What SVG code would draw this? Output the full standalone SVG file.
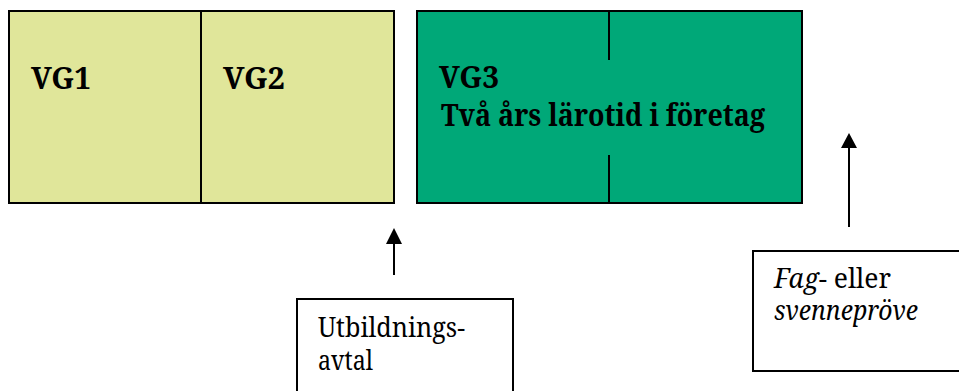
<svg xmlns="http://www.w3.org/2000/svg" width="959" height="391" viewBox="0 0 959 391">
<style>
.box{stroke:#000;stroke-width:2}
.line{stroke:#000;stroke-width:2;fill:none}
text{font-family:'Noto Serif','DejaVu Serif',serif;fill:#000}
.title{font-weight:bold;font-size:30px}
.lbl{font-size:27px}
</style>
<rect width="959" height="391" fill="#fff"/>
<g id="vg12">
<rect class="box" x="9" y="11" width="385" height="192" fill="#E0E69A"/>
<line class="line" x1="201" y1="11" x2="201" y2="203"/>
<text class="title" x="31" y="89" textLength="60" lengthAdjust="spacingAndGlyphs">VG1</text>
<text class="title" x="223" y="89" textLength="62" lengthAdjust="spacingAndGlyphs">VG2</text>
</g>
<g id="vg3">
<rect class="box" x="417" y="11" width="385" height="192" fill="#00A878"/>
<line class="line" x1="609" y1="11" x2="609" y2="60"/>
<line class="line" x1="609" y1="155" x2="609" y2="203"/>
<text class="title" x="439" y="88" textLength="60" lengthAdjust="spacingAndGlyphs">VG3</text>
<text class="title" x="441" y="126" textLength="324" lengthAdjust="spacingAndGlyphs">Två års lärotid i företag</text>
</g>
<g id="utb">
<rect class="box" x="297" y="299" width="216" height="100" fill="#fff"/>
<text class="lbl" x="318" y="337" textLength="147" lengthAdjust="spacingAndGlyphs">Utbildnings-</text>
<text class="lbl" x="318" y="370" textLength="55" lengthAdjust="spacingAndGlyphs">avtal</text>
</g>
<g id="fag">
<rect class="box" x="753" y="251" width="210" height="120" fill="#fff"/>
<text class="lbl" x="774" y="288" textLength="117" lengthAdjust="spacingAndGlyphs"><tspan font-style="italic">Fag</tspan>- eller</text>
<text class="lbl" x="774" y="320" font-style="italic" textLength="144" lengthAdjust="spacingAndGlyphs">svennepröve</text>
</g>
<g id="connectors">
<line x1="394" y1="275" x2="394" y2="244" stroke="#000" stroke-width="2"/>
<path d="M386,244 L402,244 L394,228 Z" fill="#000"/>
<line x1="849" y1="227" x2="849" y2="148" stroke="#000" stroke-width="2"/>
<path d="M841,148 L857,148 L849,133 Z" fill="#000"/>
</g>
</svg>
